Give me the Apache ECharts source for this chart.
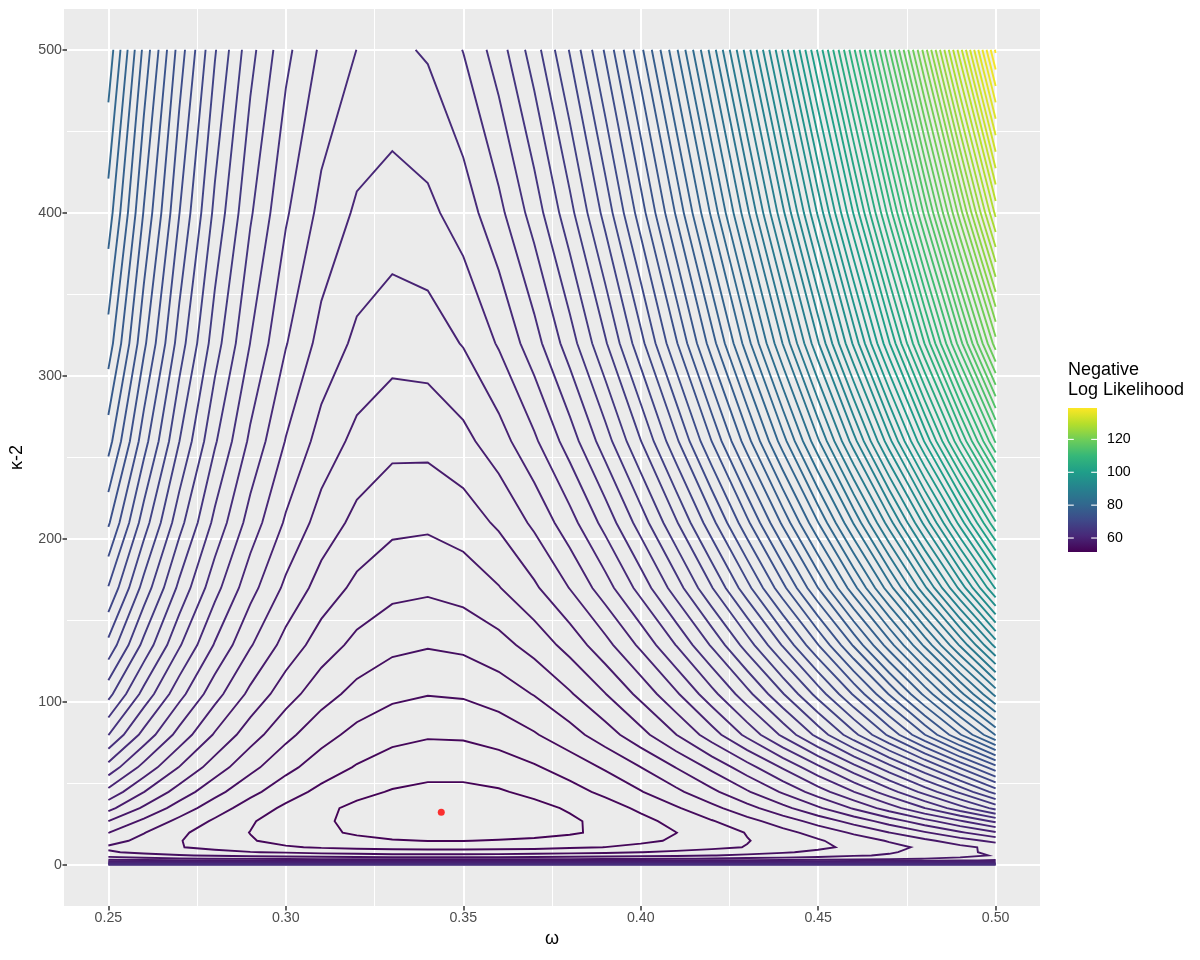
<!DOCTYPE html>
<html>
<head>
<meta charset="utf-8">
<script src="https://cdn.jsdelivr.net/npm/echarts@6/dist/echarts.min.js"></script>
<style>
html,body{margin:0;padding:0;background:#ffffff;}
#chart{width:1200px;height:960px;}
</style>
</head>
<body>
<div id="chart"></div>
<script>
// ---------------- DATA ----------------
// grid columns: omega
const omega = [0.25,0.26,0.27,0.28,0.29,0.30,0.31,0.32,0.33,0.34,0.35,0.36,0.37,0.38,0.39,0.40,0.41,0.42,0.43,0.44,0.45,0.46,0.47,0.48,0.49,0.50];
// grid rows: kappa - 2
const kappaMinus2 = [0,1,2,3,4,6,8,11,15,20,27,35,45,60,80,105,135,170,210,260,320,400,500];
// negative log likelihood, one array per kappa-2 row (columns follow omega)
const nllK0   = [63.8,63.8,63.8,63.8,63.8,63.8,63.8,63.8,63.8,63.8,63.8,63.8,63.8,63.8,63.8,63.8,63.8,63.8,63.8,63.8,63.8,63.8,63.8,63.8,63.8,63.8];
const nllK1   = [60.7,60.7,60.6,60.6,60.6,60.5,60.5,60.5,60.5,60.5,60.5,60.5,60.5,60.5,60.5,60.6,60.6,60.6,60.6,60.7,60.7,60.8,60.8,60.9,60.9,61.0];
const nllK2   = [58.7,58.6,58.6,58.5,58.4,58.4,58.4,58.3,58.3,58.3,58.3,58.3,58.3,58.3,58.4,58.4,58.5,58.5,58.6,58.7,58.7,58.8,58.9,59.0,59.1,59.2];
const nllK3   = [57.3,57.2,57.1,56.99,56.9,56.8,56.8,56.7,56.7,56.7,56.7,56.7,56.7,56.8,56.8,56.9,56.95,57.04,57.1,57.2,57.35,57.5,57.6,57.76,57.9,58.1];
const nllK4   = [56.5,56.3,56.1,55.98,55.9,55.8,55.7,55.65,55.6,55.6,55.6,55.6,55.65,55.7,55.8,55.84,55.94,56.05,56.2,56.3,56.47,56.6,56.8,57.02,57.2,57.5];
const nllK6   = [55.6,55.3,55.07,54.9,54.7,54.6,54.5,54.4,54.3,54.3,54.3,54.3,54.4,54.5,54.6,54.7,54.8,54.97,55.2,55.4,55.6,55.9,56.1,56.4,56.7,57.08];
const nllK8   = [55.1,54.8,54.5,54.3,54.04,53.9,53.7,53.6,53.5,53.5,53.5,53.54,53.6,53.7,53.8,53.99,54.2,54.4,54.6,54.9,55.2,55.6,55.9,56.3,56.8,57.2];
const nllK11  = [54.85,54.5,54.05,53.7,53.4,53.1,52.9,52.75,52.65,52.6,52.6,52.65,52.69,52.87,53.01,53.23,53.46,53.77,54.04,54.4,54.8,55.21,55.69,56.2,56.74,57.28];
const nllK15  = [55.4,54.7,54.05,53.5,53.07,52.7,52.4,52.2,52.08,51.98,51.98,52.06,52.17,52.34,52.55,52.82,53.11,53.53,53.96,54.38,54.89,55.49,56.08,56.76,57.53,58.29];
const nllK20  = [56.02,55.04,54.2,53.49,52.98,52.45,52.15,51.9,51.55,51.46,51.46,51.54,51.68,51.88,52.2,52.56,52.99,53.48,54.05,54.68,55.38,56.14,56.98,57.88,58.85,59.88];
const nllK27  = [56.99,55.79,54.74,53.85,53.1,52.49,52.12,51.8,51.43,51.31,51.31,51.41,51.6,51.85,52.27,52.73,53.29,53.93,54.67,55.49,56.39,57.38,58.46,59.62,60.87,62.22];
const nllK35  = [58.3,56.83,55.55,54.46,53.55,52.81,52.22,51.79,51.51,51.37,51.37,51.49,51.74,52.1,52.58,53.18,53.89,54.71,55.65,56.69,57.85,59.11,60.49,61.98,63.6,65.32];
const nllK45  = [59.7,58.02,56.56,55.32,54.27,53.42,52.75,52.25,51.93,51.77,51.77,51.91,52.21,52.65,53.22,53.94,54.78,55.76,56.89,58.13,59.51,60.98,62.57,64.34,66.22,68.39];
const nllK60  = [61.63,59.66,57.96,56.5,55.28,54.28,53.5,52.92,52.54,52.35,52.35,52.53,52.89,53.42,54.12,54.99,56.03,57.22,58.58,60.1,61.78,63.62,65.62,67.79,70.11,72.6];
const nllK80  = [64.02,61.66,59.62,57.89,56.44,55.27,54.36,53.7,53.28,53.1,53.14,53.41,53.91,54.61,55.53,56.66,57.99,59.53,61.27,63.2,65.34,67.68,70.22,72.97,75.91,79.06];
const nllK105 = [66.33,63.66,61.35,59.39,57.75,56.43,55.41,54.68,54.23,54.04,54.12,54.46,55.05,55.89,56.97,58.29,59.85,61.65,63.67,65.92,68.41,71.13,74.07,77.25,80.66,84.31];
const nllK135 = [68.71,65.7,63.11,60.91,59.09,57.63,56.51,55.72,55.25,55.08,55.22,55.65,56.37,57.37,58.65,60.21,62.03,64.12,66.47,69.09,71.97,75.12,78.52,82.2,86.14,90.35];
const nllK170 = [70.94,67.61,64.75,62.35,60.36,58.78,57.58,56.76,56.29,56.17,56.4,56.95,57.83,59.03,60.55,62.37,64.5,66.93,69.65,72.68,76.01,79.63,83.55,87.77,92.29,97.12];
const nllK210 = [73.14,69.49,66.36,63.73,61.57,59.86,58.58,57.72,57.25,57.18,57.48,58.16,59.2,60.6,62.35,64.45,66.88,69.65,72.76,76.2,79.98,84.08,88.52,93.3,98.41,103.87];
const nllK260 = [75.43,71.42,68.01,65.13,62.79,60.95,59.6,58.72,58.28,58.29,58.71,59.56,60.82,62.48,64.53,66.97,69.79,73.01,76.58,80.53,84.86,89.56,94.64,100.1,105.94,112.16];
const nllK320 = [77.56,73.23,69.54,66.47,63.98,62.06,60.66,59.78,59.4,59.49,60.06,61.1,62.58,64.51,66.87,69.66,72.88,76.51,80.56,85.03,89.91,95.2,100.91,107.04,113.59,120.56];
const nllK400 = [79.55,74.92,71.02,67.75,65.13,63.13,61.71,60.85,60.53,60.75,61.47,62.71,64.44,66.66,69.35,72.51,76.13,80.21,84.75,89.74,95.19,101.09,107.45,114.26,121.54,129.28];
const nllK500 = [81.69,76.73,72.55,69.1,66.35,64.27,62.82,61.99,61.77,62.12,63.03,64.51,66.52,69.07,72.14,75.72,79.82,84.41,89.51,95.11,101.21,107.8,114.9,122.5,130.6,139.2];

// maximum-likelihood point (red dot)
const mleOmega = 0.3438;
const mleKappaMinus2 = 32.5;

// axis ticks and legend
const xTickValues = [0.25, 0.30, 0.35, 0.40, 0.45, 0.50];
const yTickValues = [0, 100, 200, 300, 400, 500];
const legendTickValues = [60, 80, 100, 120];
const legendRange = [51.5, 139.1];
const contourBinwidth = 1;

// ---------------- BUILD ----------------
const nllRows = [nllK0,nllK1,nllK2,nllK3,nllK4,nllK6,nllK8,nllK11,nllK15,nllK20,nllK27,nllK35,nllK45,nllK60,nllK80,nllK105,nllK135,nllK170,nllK210,nllK260,nllK320,nllK400,nllK500];

const viridis = ['#440154','#482878','#3E4A89','#31688E','#26828E','#1F9E89','#35B779','#6DCD59','#B4DE2C','#FDE725'];
function hexToRgb(h){return [parseInt(h.slice(1,3),16),parseInt(h.slice(3,5),16),parseInt(h.slice(5,7),16)];}
function viridisColor(t){
  t = Math.max(0, Math.min(1, t));
  const p = t * (viridis.length - 1);
  const i = Math.min(viridis.length - 2, Math.floor(p));
  const f = p - i;
  const a = hexToRgb(viridis[i]), b = hexToRgb(viridis[i+1]);
  const c = a.map((v,k)=>Math.round(v + (b[k]-v)*f));
  return 'rgb(' + c.join(',') + ')';
}

// marching squares on the (omega, kappa-2) grid
function contourAt(level){
  const X = omega, Y = kappaMinus2, Z = nllRows;
  const val = (j,i) => { let v = Z[j][i]; if (Math.abs(v - level) < 1e-9) v += 1e-6; return v; };
  const pts = {};
  const segs = [];
  for (let j = 0; j < Y.length - 1; j++) {
    for (let i = 0; i < X.length - 1; i++) {
      const a = val(j,i), b = val(j,i+1), c = val(j+1,i+1), d = val(j+1,i);
      const e = [];
      if ((a > level) !== (b > level)) { const t=(level-a)/(b-a); const k='h'+i+'_'+j; pts[k]=[X[i]+t*(X[i+1]-X[i]), Y[j]]; e.push(k); } else e.push(null);
      if ((b > level) !== (c > level)) { const t=(level-b)/(c-b); const k='v'+(i+1)+'_'+j; pts[k]=[X[i+1], Y[j]+t*(Y[j+1]-Y[j])]; e.push(k); } else e.push(null);
      if ((d > level) !== (c > level)) { const t=(level-d)/(c-d); const k='h'+i+'_'+(j+1); pts[k]=[X[i]+t*(X[i+1]-X[i]), Y[j+1]]; e.push(k); } else e.push(null);
      if ((a > level) !== (d > level)) { const t=(level-a)/(d-a); const k='v'+i+'_'+j; pts[k]=[X[i], Y[j]+t*(Y[j+1]-Y[j])]; e.push(k); } else e.push(null);
      const present = e.filter(x => x !== null);
      if (present.length === 2) segs.push(present);
      else if (present.length === 4) {
        const center = (a+b+c+d)/4;
        if ((center > level) === (a > level)) { segs.push([e[0], e[1]]); segs.push([e[2], e[3]]); }
        else { segs.push([e[3], e[0]]); segs.push([e[1], e[2]]); }
      }
    }
  }
  const adj = new Map();
  segs.forEach((s, idx) => s.forEach(k => { if (!adj.has(k)) adj.set(k, []); adj.get(k).push(idx); }));
  const used = new Array(segs.length).fill(false);
  const lines = [];
  function walk(seg, key){
    const path = [key];
    while (seg !== undefined && !used[seg]) {
      used[seg] = true;
      const s = segs[seg];
      const next = s[0] === key ? s[1] : s[0];
      path.push(next);
      const cand = adj.get(next).filter(x => !used[x]);
      key = next; seg = cand[0];
    }
    return path.map(k => pts[k]);
  }
  for (const [k, list] of adj) { if (list.length === 1 && !used[list[0]]) lines.push(walk(list[0], k)); }
  for (let s = 0; s < segs.length; s++) { if (!used[s]) lines.push(walk(s, segs[s][0])); }
  return lines;
}

let zMin = Infinity, zMax = -Infinity;
nllRows.forEach(r => r.forEach(v => { zMin = Math.min(zMin, v); zMax = Math.max(zMax, v); }));
const levels = [];
for (let l = Math.ceil(zMin / contourBinwidth) * contourBinwidth; l <= zMax; l += contourBinwidth) levels.push(l);

const lineData = [];
levels.forEach(lv => {
  const col = viridisColor((lv - legendRange[0]) / (legendRange[1] - legendRange[0]));
  contourAt(lv).forEach(c => { if (c.length > 1) lineData.push({ coords: c, lineStyle: { color: col } }); });
});

// ---------------- LAYOUT ----------------
const FONT = '"Liberation Sans", Arial, sans-serif';
const TICK_FS = 14.2, TITLE_FS = 18;
const panel = { left: 64, right: 1040, top: 9, bottom: 906 };
const xExt = [0.2375, 0.5125];   // 5% expansion of 0.25..0.50
const yExt = [-25, 525];         // 5% expansion of 0..500
const px = v => panel.left + (v - xExt[0]) / (xExt[1] - xExt[0]) * (panel.right - panel.left);
const py = v => panel.bottom - (v - yExt[0]) / (yExt[1] - yExt[0]) * (panel.bottom - panel.top);

const bar = { left: 1068, top: 408, width: 29, height: 144 };
const legendY = v => bar.top + (legendRange[1] - v) / (legendRange[1] - legendRange[0]) * bar.height;

const graphics = [
  { type: 'text', left: 1068, top: 360, z: 10,
    style: { text: 'Negative\nLog Likelihood', fontSize: TITLE_FS, lineHeight: 20, fontFamily: FONT, fill: '#000' } },
  { type: 'rect', shape: { x: bar.left, y: bar.top, width: bar.width, height: bar.height }, z: 10,
    style: { fill: new echarts.graphic.LinearGradient(0, 0, 0, 1,
      viridis.slice().reverse().map((c, i) => ({ offset: i / (viridis.length - 1), color: c }))) } }
];
legendTickValues.forEach(v => {
  const y = legendY(v);
  graphics.push({ type: 'line', z: 11, shape: { x1: bar.left, y1: y, x2: bar.left + 5.8, y2: y }, style: { stroke: '#fff', lineWidth: 1.1 } });
  graphics.push({ type: 'line', z: 11, shape: { x1: bar.left + bar.width - 5.8, y1: y, x2: bar.left + bar.width, y2: y }, style: { stroke: '#fff', lineWidth: 1.1 } });
  graphics.push({ type: 'text', z: 11, x: 1107, y: y,
    style: { text: String(v), fontSize: TICK_FS, fontFamily: FONT, fill: '#000', verticalAlign: 'middle', align: 'left' } });
});

const majorLine = { color: '#FFFFFF', width: 2 };
const minorLine = { color: '#FFFFFF', width: 1 };

const option = {
  animation: false,
  backgroundColor: '#FFFFFF',
  textStyle: { fontFamily: FONT },
  grid: [
    { left: panel.left, width: panel.right - panel.left, top: panel.top, height: panel.bottom - panel.top,
      show: true, backgroundColor: '#EBEBEB', borderWidth: 0, z: 0 },
    { left: px(xTickValues[0]), width: px(xTickValues[xTickValues.length-1]) - px(xTickValues[0]),
      top: panel.top, height: panel.bottom - panel.top, z: 0 },
    { left: panel.left, width: panel.right - panel.left,
      top: py(yTickValues[yTickValues.length-1]), height: py(yTickValues[0]) - py(yTickValues[yTickValues.length-1]), z: 0 }
  ],
  xAxis: [
    { gridIndex: 0, type: 'value', min: xExt[0], max: xExt[1], show: false },
    { gridIndex: 1, type: 'value', min: xTickValues[0], max: xTickValues[xTickValues.length-1], interval: 0.05, z: 1,
      axisLine: { show: false },
      axisTick: { show: true, length: 4.5, lineStyle: { color: '#333333', width: 1.5 } },
      axisLabel: { color: '#4D4D4D', fontSize: TICK_FS, margin: 5, formatter: v => v.toFixed(2) },
      splitLine: { show: true, lineStyle: majorLine },
      minorTick: { show: false, splitNumber: 2 },
      minorSplitLine: { show: true, lineStyle: minorLine },
      name: 'ω', nameLocation: 'middle', nameGap: 24,
      nameTextStyle: { color: '#000', fontSize: TITLE_FS, fontFamily: FONT } },
    { gridIndex: 2, type: 'value', min: 0, max: 1, show: false }
  ],
  yAxis: [
    { gridIndex: 0, type: 'value', min: yExt[0], max: yExt[1], show: false },
    { gridIndex: 1, type: 'value', min: 0, max: 1, show: false },
    { gridIndex: 2, type: 'value', min: yTickValues[0], max: yTickValues[yTickValues.length-1], interval: 100, z: 1,
      axisLine: { show: false },
      axisTick: { show: true, length: 4.5, lineStyle: { color: '#333333', width: 1.5 } },
      axisLabel: { color: '#4D4D4D', fontSize: TICK_FS, margin: 5 },
      splitLine: { show: true, lineStyle: majorLine },
      minorTick: { show: false, splitNumber: 2 },
      minorSplitLine: { show: true, lineStyle: minorLine },
      name: 'κ-2', nameLocation: 'middle', nameGap: 41, nameRotate: 90,
      nameTextStyle: { color: '#000', fontSize: TITLE_FS, fontFamily: FONT } }
  ],
  graphic: graphics,
  series: [
    { type: 'lines', coordinateSystem: 'cartesian2d', xAxisIndex: 0, yAxisIndex: 0,
      polyline: true, silent: true, z: 3,
      lineStyle: { width: 1.9, opacity: 1 },
      data: lineData },
    { type: 'scatter', xAxisIndex: 0, yAxisIndex: 0, z: 4, silent: true,
      symbol: 'circle', symbolSize: 7,
      itemStyle: { color: '#FF0000' },
      data: [[mleOmega, mleKappaMinus2]] }
  ]
};

const chart = echarts.init(document.getElementById('chart'));
chart.setOption(option);
</script>
</body>
</html>
